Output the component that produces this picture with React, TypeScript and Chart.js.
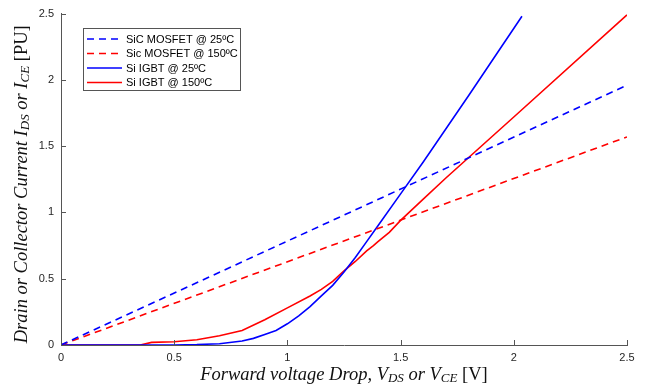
import React, { useEffect, useRef } from "react";
import { Chart, registerables } from "chart.js";

Chart.register(...registerables);

// ---- data ----
const seriesLabels = [
  "SiC MOSFET @ 25ºC",
  "Sic MOSFET @ 150ºC",
  "Si IGBT @ 25ºC",
  "Si IGBT @ 150ºC",
];
const seriesColors = ["#0000ff", "#ff0000", "#0000ff", "#ff0000"];
const seriesDashed = [true, true, false, false];

const mosfetX = [0, 2.5];
const sicMosfet25Y = [0, 1.96];
const sicMosfet150Y = [0, 1.57];

const igbt25X = [0, 0.3, 0.5, 0.6, 0.7, 0.8, 0.85, 0.9, 0.95, 1.0, 1.05, 1.1, 1.15, 1.2, 1.25, 1.3, 1.35, 1.4, 1.5, 1.6, 1.8, 2.036];
const igbt25Y = [0, 0, 0, 0.003, 0.01, 0.03, 0.05, 0.08, 0.11, 0.16, 0.22, 0.29, 0.37, 0.45, 0.55, 0.66, 0.78, 0.9, 1.14, 1.38, 1.88, 2.48];

const igbt150X = [0, 0.35, 0.4, 0.5, 0.6, 0.7, 0.8, 0.9, 1.0, 1.1, 1.15, 1.2, 1.25, 1.3, 1.35, 1.38, 1.4, 1.45, 1.5, 1.6, 1.7, 2.0, 2.5];
const igbt150Y = [0, 0, 0.02, 0.025, 0.04, 0.07, 0.11, 0.19, 0.28, 0.37, 0.42, 0.48, 0.56, 0.63, 0.71, 0.75, 0.78, 0.85, 0.94, 1.1, 1.26, 1.72, 2.49];

const axisMin = 0;
const axisMax = 2.5;
const tickStep = 0.5;

type Run = { t: string; sub?: boolean; upright?: boolean };
const xTitleRuns: Run[] = [
  { t: "Forward voltage Drop, V" },
  { t: "DS", sub: true },
  { t: " or V" },
  { t: "CE", sub: true },
  { t: " [V]", upright: true },
];
const yTitleRuns: Run[] = [
  { t: "Drain or Collector Current I" },
  { t: "DS", sub: true },
  { t: " or I" },
  { t: "CE", sub: true },
  { t: " [PU]", upright: true },
];

const zip = (xs: number[], ys: number[]) => xs.map((x, i) => ({ x, y: ys[i] }));

const TITLE_FONT = "'Liberation Serif'";
const TITLE_SIZE = 18.5;
const SUB_SIZE = 13;

function runFont(r: Run) {
  const size = r.sub ? SUB_SIZE : TITLE_SIZE;
  return `${r.upright ? "" : "italic "}${size}px ${TITLE_FONT}`;
}

function drawRuns(ctx: CanvasRenderingContext2D, runs: Run[], cx: number, cy: number) {
  let total = 0;
  for (const r of runs) {
    ctx.font = runFont(r);
    total += ctx.measureText(r.t).width;
  }
  let x = cx - total / 2;
  ctx.textAlign = "left";
  ctx.textBaseline = "middle";
  for (const r of runs) {
    ctx.font = runFont(r);
    ctx.fillText(r.t, x, r.sub ? cy + 4 : cy);
    x += ctx.measureText(r.t).width;
  }
}

const decorPlugin = {
  id: "decor",
  afterDraw(chart: any) {
    const { ctx, chartArea, scales } = chart;
    const xs = scales.x;
    const ys = scales.y;
    ctx.save();
    // inward tick marks
    ctx.strokeStyle = "#555555";
    ctx.lineWidth = 1;
    ctx.setLineDash([]);
    for (let v = axisMin; v <= axisMax + 1e-9; v += tickStep) {
      const px = Math.round(xs.getPixelForValue(v)) + 0.5;
      ctx.beginPath();
      ctx.moveTo(px, chartArea.bottom);
      ctx.lineTo(px, chartArea.bottom - 5);
      ctx.stroke();
      const py = Math.round(ys.getPixelForValue(v)) + 0.5;
      ctx.beginPath();
      ctx.moveTo(chartArea.left, py);
      ctx.lineTo(chartArea.left + 5, py);
      ctx.stroke();
    }
    // axis titles
    ctx.fillStyle = "#111111";
    drawRuns(ctx, xTitleRuns, (chartArea.left + chartArea.right) / 2, 375);
    ctx.save();
    ctx.translate(22, (chartArea.top + chartArea.bottom) / 2 + 5);
    ctx.rotate(-Math.PI / 2);
    drawRuns(ctx, yTitleRuns, 0, 0);
    ctx.restore();

    // legend box
    const bx = 83.5, by = 28.5, bw = 157, bh = 62;
    ctx.fillStyle = "#ffffff";
    ctx.fillRect(bx, by, bw, bh);
    ctx.strokeStyle = "#555555";
    ctx.lineWidth = 1;
    ctx.strokeRect(bx, by, bw, bh);
    const rowYs = [39, 53.5, 68, 82.5];
    chart.data.datasets.forEach((ds: any, i: number) => {
      const y = rowYs[i];
      ctx.strokeStyle = ds.borderColor;
      ctx.lineWidth = 1.5;
      ctx.setLineDash(ds.borderDash || []);
      ctx.beginPath();
      ctx.moveTo(87, y);
      ctx.lineTo(122, y);
      ctx.stroke();
      ctx.setLineDash([]);
      ctx.fillStyle = "#000000";
      ctx.font = "11px 'Liberation Sans'";
      ctx.textAlign = "left";
      ctx.textBaseline = "middle";
      ctx.fillText(ds.label, 126, y + 0.5);
    });
    ctx.restore();
  },
};

const fmtTick = (v: any) => String(Number(v));

export default function App() {
  const ref = useRef<HTMLCanvasElement>(null);
  useEffect(() => {
    document.body.style.margin = "0";
    const canvas = ref.current!;
    const seriesData = [
      zip(mosfetX, sicMosfet25Y),
      zip(mosfetX, sicMosfet150Y),
      zip(igbt25X, igbt25Y),
      zip(igbt150X, igbt150Y),
    ];
    const chart = new Chart(canvas, {
      type: "line",
      data: {
        datasets: seriesData.map((d, i) => ({
          label: seriesLabels[i],
          data: d,
          borderColor: seriesColors[i],
          backgroundColor: seriesColors[i],
          borderWidth: 1.6,
          borderDash: seriesDashed[i] ? [7, 5] : [],
          pointRadius: 0,
          fill: false,
          tension: 0,
        })),
      },
      options: {
        responsive: false,
        animation: false,
        parsing: false as any,
        layout: { padding: { top: 12, right: 22, left: 0, bottom: 0 } },
        plugins: { legend: { display: false }, tooltip: { enabled: false } },
        scales: {
          x: {
            type: "linear",
            min: axisMin,
            max: axisMax,
            grid: { display: false, drawTicks: false },
            border: { display: true, color: "#555555", width: 1 },
            ticks: {
              stepSize: tickStep,
              padding: 6,
              color: "#262626",
              font: { family: "'Liberation Sans'", size: 11 },
              maxRotation: 0,
              callback: fmtTick,
            },
            afterFit: (s: any) => {
              s.height = 41;
            },
          },
          y: {
            type: "linear",
            min: axisMin,
            max: axisMax,
            grid: { display: false, drawTicks: false },
            border: { display: true, color: "#555555", width: 1 },
            ticks: {
              stepSize: tickStep,
              padding: 7,
              color: "#262626",
              font: { family: "'Liberation Sans'", size: 11 },
              callback: fmtTick,
            },
            afterFit: (s: any) => {
              s.width = 61;
            },
          },
        },
      },
      plugins: [decorPlugin],
    });
    return () => chart.destroy();
  }, []);
  return (
    <canvas
      ref={ref}
      width={649}
      height={386}
      style={{ display: "block", position: "absolute", left: 0, top: 0 }}
    />
  );
}
